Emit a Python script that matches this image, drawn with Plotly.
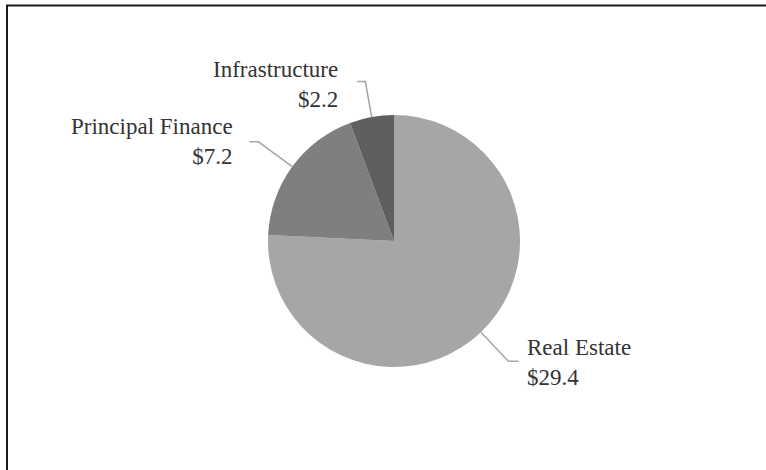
import math
import plotly.graph_objects as go

# Data
labels = ["Real Estate", "Principal Finance", "Infrastructure"]
values = [29.4, 7.2, 2.2]
colors = ["#a6a6a6", "#7f7f7f", "#5f5f5f"]

W, H = 766, 470
CX, CY, R = 394, 241, 126  # pie centre / radius in pixels

def px(x):
    return x / W

def py(y):
    return 1 - y / H

fig = go.Figure()
fig.add_trace(go.Pie(
    labels=labels, values=values, sort=False, direction="clockwise", rotation=0,
    marker=dict(colors=colors, line=dict(width=0)),
    textinfo="none", hoverinfo="label+value", showlegend=False,
    domain=dict(x=[px(CX - R), px(CX + R)], y=[py(CY + R), py(CY - R)]),
))

# leader lines & labels computed from slice mid-angles
elbow_off = [40, 42, 36]
tail = [10, 9, 8]
gap = [7, 14, 17]
yshift = [1, 0, 3]
total = sum(values)
cum = 0.0
shapes = []
annotations = []
for lab, v, eo, tl, g, ys in zip(labels, values, elbow_off, tail, gap, yshift):
    mid = (cum + v / 2) / total * 2 * math.pi  # clockwise from top
    cum += v
    sx, sy = CX + R * math.sin(mid), CY - R * math.cos(mid)
    ex, ey = CX + (R + eo) * math.sin(mid), CY - (R + eo) * math.cos(mid)
    side = 1 if math.sin(mid) >= 0 else -1
    tx = ex + side * tl
    shapes.append(dict(type="path", xref="paper", yref="paper",
                       path=f"M {px(sx)} {py(sy)} L {px(ex)} {py(ey)} L {px(tx)} {py(ey)}",
                       line=dict(color="#a6a6a6", width=1.5)))
    annotations.append(dict(
        x=px(tx + side * g), y=py(ey + ys), xref="paper", yref="paper",
        xanchor="left" if side > 0 else "right", yanchor="middle",
        align="left" if side > 0 else "right", showarrow=False,
        text=f"{lab}<br>${v:.1f}",
        font=dict(family="Liberation Serif", size=23, color="#333333"),
    ))

# chart frame (top and left edges visible)
shapes.append(dict(type="line", xref="paper", yref="paper",
                   x0=px(6), x1=1.0, y0=py(5.5), y1=py(5.5),
                   line=dict(color="#1a1a1a", width=2)))
shapes.append(dict(type="line", xref="paper", yref="paper",
                   x0=px(7), x1=px(7), y0=py(5), y1=0,
                   line=dict(color="#1a1a1a", width=2)))

fig.update_layout(
    width=W, height=H, margin=dict(l=0, r=0, t=0, b=0),
    paper_bgcolor="#ffffff", plot_bgcolor="#ffffff",
    shapes=shapes, annotations=annotations,
)
fig.write_html("out.html")
